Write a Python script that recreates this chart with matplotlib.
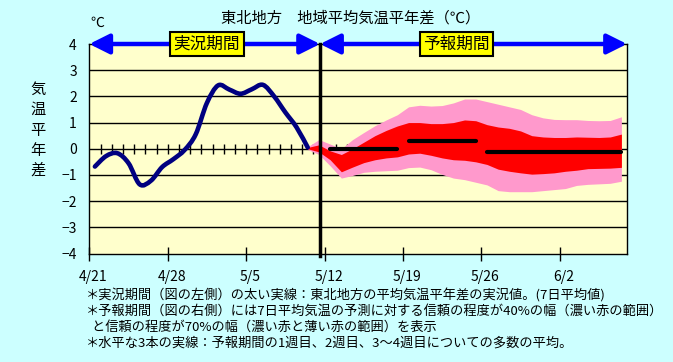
import matplotlib
matplotlib.use('Agg')
import matplotlib.pyplot as plt
from matplotlib.path import Path
from matplotlib.patches import PathPatch
from matplotlib.transforms import ScaledTranslation
import numpy as np

plt.rcParams['font.family'] = ['Noto Sans CJK JP', 'DejaVu Sans']

# x = days counted from 4/21, daily values sit at the middle of the day
tick_days = [0, 7, 14, 21, 28, 35, 42]
tick_labels = ['4/21', '4/28', '5/5', '5/12', '5/19', '5/26', '6/2']

# observed 7-day mean anomaly, 4/21 .. 5/10
obs_days = np.arange(0, 20) + 0.5
obs_values = [-0.68, -0.28, -0.17, -0.55, -1.36, -1.22, -0.70, -0.40, -0.05, 0.55,
              1.75, 2.42, 2.26, 2.10, 2.27, 2.44, 2.00, 1.39, 0.82, 0.05]

# forecast ranges, 5/10 .. 6/7
fc_days = np.arange(19, 48) + 0.5
p70_upper = [0.08, 0.35, 0.18, 0.00, 0.35, 0.62, 0.88, 1.10, 1.30, 1.60,
             1.66, 1.63, 1.65, 1.75, 1.90, 1.90, 1.80, 1.70, 1.60, 1.50,
             1.30, 1.18, 1.12, 1.11, 1.11, 1.08, 1.07, 1.08, 1.22]
p40_upper = [0.05, 0.15, -0.08, -0.22, 0.00, 0.25, 0.50, 0.70, 0.87, 1.00,
             1.00, 0.96, 0.96, 1.00, 1.10, 1.07, 0.92, 0.83, 0.78, 0.68,
             0.50, 0.45, 0.43, 0.43, 0.45, 0.44, 0.43, 0.45, 0.56]
p40_lower = [0.00, -0.12, -0.42, -0.88, -0.70, -0.53, -0.42, -0.35, -0.31, -0.20,
             -0.17, -0.25, -0.35, -0.42, -0.44, -0.50, -0.60, -0.78, -0.86, -0.92,
             -0.97, -0.95, -0.92, -0.86, -0.82, -0.76, -0.75, -0.74, -0.71]
p70_lower = [-0.03, -0.22, -0.65, -1.12, -1.02, -0.90, -0.86, -0.84, -0.82, -0.72,
             -0.70, -0.80, -0.98, -1.12, -1.18, -1.28, -1.38, -1.60, -1.64, -1.64,
             -1.64, -1.60, -1.56, -1.52, -1.40, -1.36, -1.34, -1.32, -1.24]

# ensemble means: week 1, week 2, weeks 3-4
week_first = [21.5, 28.5, 35.5]
week_last = [27.5, 34.5, 47.5]
week_mean = [0.0, 0.28, -0.12]

split_day = 20.6

title = '東北地方　地域平均気温平年差（℃）'
notes = ['＊実況期間（図の左側）の太い実線：東北地方の平均気温平年差の実況値。(7日平均値)',
         '＊予報期間（図の右側）には7日平均気温の予測に対する信頼の程度が40%の幅（濃い赤の範囲）',
         '  と信頼の程度が70%の幅（濃い赤と薄い赤の範囲）を表示',
         '＊水平な3本の実線：予報期間の1週目、2週目、3～4週目についての多数の平均。']

W, H = 673, 362
fig = plt.figure(figsize=(W / 100, H / 100), dpi=100, facecolor='#CCFFFF')
ax = fig.add_axes([89.3 / W, 1 - 253.5 / H, (627 - 89.3) / W, (253.5 - 44) / H])
ax.set_facecolor('#FFFFCC')
ax.set_xlim(0, 48)
ax.set_ylim(-4, 4)

for v in range(-3, 4):
    ax.axhline(v, color='black', lw=1, zorder=1)
ax.plot(np.arange(1, 48), np.zeros(47), marker='|', ms=7, mew=1, ls='none',
        color='black', zorder=1)

ax.fill_between(fc_days, p70_lower, p70_upper, color='#FF99CC', lw=0, zorder=2)
ax.fill_between(fc_days, p40_lower, p40_upper, color='#FF0000', lw=0, zorder=3)

for a, b, m in zip(week_first, week_last, week_mean):
    ax.plot([a, b], [m, m], color='black', lw=3, solid_capstyle='round', zorder=4)

# smooth observed curve (Bezier through the daily points)
pts = np.column_stack([obs_days, obs_values])
verts = [pts[0]]
codes = [Path.MOVETO]
for i in range(len(pts) - 1):
    p0 = pts[max(i - 1, 0)]
    p1 = pts[i]
    p2 = pts[i + 1]
    p3 = pts[min(i + 2, len(pts) - 1)]
    verts += [p1 + (p2 - p0) / 6, p2 - (p3 - p1) / 6, p2]
    codes += [Path.CURVE4] * 3
ax.add_patch(PathPatch(Path(verts, codes), fill=False, ec='#000080', lw=3.3,
                       capstyle='round', joinstyle='round', zorder=5))

ax.plot([split_day, split_day], [-4.1, 4], color='black', lw=2.5, clip_on=False, zorder=6)

arrow = dict(arrowstyle='<|-|>,head_length=0.8,head_width=0.4', mutation_scale=15,
             lw=3.2, color='#0000FF', shrinkA=0, shrinkB=0)
ax.annotate('', xy=(0, 4), xytext=(split_day, 4), arrowprops=arrow,
            annotation_clip=False, zorder=7)
ax.annotate('', xy=(split_day, 4), xytext=(48, 4), arrowprops=arrow,
            annotation_clip=False, zorder=7)

box = dict(boxstyle='square,pad=0.2', fc='#FFFF00', ec='black', lw=1.5)
ax.text(10.5, 4, '実況期間', ha='center', va='center', fontsize=12, bbox=box,
        zorder=8, clip_on=False)
ax.text(32.8, 4, '予報期間', ha='center', va='center', fontsize=12, bbox=box,
        zorder=8, clip_on=False)

ax.set_xticks(tick_days, tick_labels)
ax.set_yticks(range(-4, 5))
ax.tick_params(axis='x', direction='inout', length=10, width=1, pad=7, labelsize=10)
ax.tick_params(axis='y', length=0, pad=9, labelsize=10)
for lab in ax.get_xticklabels():
    lab.set_transform(lab.get_transform() + ScaledTranslation(4 / 100, 0, fig.dpi_scale_trans))
for s in ax.spines.values():
    s.set_color('black')
    s.set_linewidth(1)

fig.text(351 / W, 1 - 18 / H, title, ha='center', va='center', fontsize=11)
fig.text(97.5 / W, 1 - 23 / H, '℃', ha='center', va='center', fontsize=10)
fig.text(38 / W, 1 - 130 / H, '気\n温\n平\n年\n差', ha='center', va='center',
         fontsize=11, linespacing=1.25)

for i, line in enumerate(notes):
    fig.text(86 / W, 1 - (295 + 16 * i) / H, line, ha='left', va='center', fontsize=9.5)

fig.savefig('out.png', dpi=100, facecolor=fig.get_facecolor())
